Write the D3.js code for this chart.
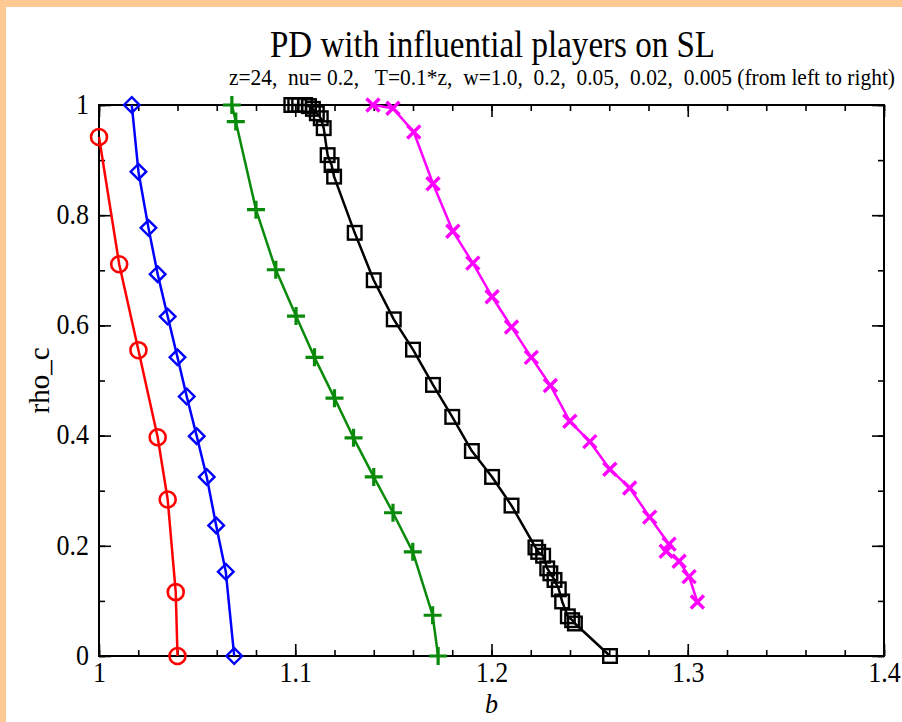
<!DOCTYPE html>
<html>
<head>
<meta charset="utf-8">
<script src="https://cdn.jsdelivr.net/npm/d3@7"></script>
<style>
  html, body { margin: 0; padding: 0; background: #ffc994; }
  svg { display: block; }
</style>
</head>
<body>
<svg id="chart" width="902" height="722"></svg>
<script>
// ---- data ----
const titleText = "PD with influential players on SL";
const subtitleText = "z=24,  nu= 0.2,   T=0.1*z,  w=1.0,  0.2,  0.05,  0.02,  0.005 (from left to right)";
const xTickValues = [1, 1.1, 1.2, 1.3, 1.4];
const xTickLabels = ["1", "1.1", "1.2", "1.3", "1.4"];
const yTickValues = [0, 0.2, 0.4, 0.6, 0.8, 1];
const yTickLabels = ["0", "0.2", "0.4", "0.6", "0.8", "1"];

const redX = [1.0, 1.0103, 1.0201, 1.0299, 1.035, 1.0391, 1.040];
const redY = [0.942, 0.711, 0.555, 0.397, 0.284, 0.116, 0.0];

const blueX = [1.0167, 1.0201, 1.0252, 1.0299, 1.035, 1.040, 1.0447, 1.0498, 1.0549, 1.0597, 1.0646, 1.0689];
const blueY = [1.0, 0.879, 0.777, 0.693, 0.616, 0.542, 0.471, 0.399, 0.325, 0.237, 0.153, 0.0];

const greenX = [1.0677, 1.0697, 1.080, 1.0901, 1.1004, 1.1098, 1.120, 1.1297, 1.140, 1.1498, 1.1599, 1.170, 1.1728];
const greenY = [1.0, 0.970, 0.810, 0.701, 0.617, 0.542, 0.468, 0.396, 0.325, 0.260, 0.189, 0.074, 0.0];

const blackX = [1.098, 1.100, 1.102, 1.105, 1.107, 1.109, 1.111, 1.113, 1.1145, 1.1165, 1.1185, 1.1198, 1.1303, 1.140, 1.1502, 1.160, 1.1702, 1.180, 1.190, 1.2003, 1.2102, 1.2224, 1.2238, 1.2263, 1.2284, 1.230, 1.2321, 1.2343, 1.236, 1.2389, 1.2411, 1.2425, 1.2604];
const blackY = [1.0, 1.0, 1.0, 1.0, 0.998, 0.993, 0.985, 0.976, 0.958, 0.909, 0.891, 0.870, 0.768, 0.682, 0.611, 0.556, 0.492, 0.434, 0.372, 0.325, 0.273, 0.197, 0.189, 0.182, 0.159, 0.150, 0.138, 0.121, 0.099, 0.072, 0.065, 0.059, 0.0];

const magentaX = [1.1396, 1.1498, 1.1604, 1.1702, 1.1803, 1.1905, 1.2003, 1.2102, 1.2203, 1.230, 1.2399, 1.2501, 1.2603, 1.2704, 1.2806, 1.2905, 1.2890, 1.2956, 1.3007, 1.3049];
const magentaY = [1.0, 0.994, 0.951, 0.857, 0.771, 0.713, 0.652, 0.597, 0.542, 0.491, 0.426, 0.389, 0.339, 0.305, 0.252, 0.203, 0.190, 0.172, 0.144, 0.098];

const seriesNames = ["w=1.0", "w=0.2", "w=0.05", "w=0.02", "w=0.005"];
const seriesColors = ["#ff0000", "#0000ff", "#0a8a0a", "#000000", "#ff00ff"];
const seriesShapes = ["circle", "diamond", "plus", "square", "cross"];

// ---- build ----
const series = [
  {x: redX, y: redY}, {x: blueX, y: blueY}, {x: greenX, y: greenY},
  {x: blackX, y: blackY}, {x: magentaX, y: magentaY}
].map((s, i) => ({
  name: seriesNames[i], color: seriesColors[i], shape: seriesShapes[i],
  pts: s.x.map((v, j) => ({x: v, y: s.y[j]}))
}));

const svg = d3.select("#chart");
const W = 902, H = 722;
svg.append("rect").attr("x", 6).attr("y", 7).attr("width", W - 6).attr("height", H - 7).attr("fill", "#ffffff");

const L = 99, R = 884, T = 105, B = 656;
const x = d3.scaleLinear().domain([1, 1.4]).range([L, R]);
const y = d3.scaleLinear().domain([0, 1]).range([B, T]);

const serif = "'Liberation Serif', 'DejaVu Serif', serif";
const stretch = 1.15;

// title (slightly tall glyphs as in the reference)
svg.append("text").attr("transform", `translate(270,57) scale(1,${stretch})`)
  .attr("font-family", serif).attr("font-size", 33).attr("fill", "#000")
  .attr("textLength", 445).attr("lengthAdjust", "spacingAndGlyphs").text(titleText);
svg.append("text").attr("transform", `translate(229,85) scale(1,${stretch})`)
  .attr("font-family", serif).attr("font-size", 20).attr("fill", "#000")
  .attr("xml:space", "preserve").style("white-space", "pre")
  .attr("textLength", 666).attr("lengthAdjust", "spacingAndGlyphs").text(subtitleText);

// axes: ticks inward on all four sides
const xMinor = d3.range(1, 1.4001, 0.02).map(v => +v.toFixed(3));
const yMinor = d3.range(0, 1.0001, 0.1).map(v => +v.toFixed(3));

function styleAxis(g) {
  g.select(".domain").remove();
  g.selectAll("line").attr("stroke", "#000").attr("stroke-width", 1.6);
  g.selectAll("text").attr("font-family", serif).attr("font-size", 26).attr("fill", "#000");
}

// bottom
svg.append("g").attr("transform", `translate(0,${B})`)
  .call(d3.axisBottom(x).tickValues(xMinor).tickSize(-6).tickFormat(""))
  .call(styleAxis);
svg.append("g").attr("transform", `translate(0,${B})`)
  .call(d3.axisBottom(x).tickValues(xTickValues).tickSize(-12).tickPadding(4)
    .tickFormat((d, i) => xTickLabels[i]))
  .call(styleAxis)
  .call(g => g.selectAll("text").attr("transform", `scale(1,${stretch})`));
// top
svg.append("g").attr("transform", `translate(0,${T})`)
  .call(d3.axisTop(x).tickValues(xMinor).tickSize(-6).tickFormat(""))
  .call(styleAxis);
svg.append("g").attr("transform", `translate(0,${T})`)
  .call(d3.axisTop(x).tickValues(xTickValues).tickSize(-12).tickFormat(""))
  .call(styleAxis);
// left
svg.append("g").attr("transform", `translate(${L},0)`)
  .call(d3.axisLeft(y).tickValues(yMinor).tickSize(-6).tickFormat(""))
  .call(styleAxis);
svg.append("g").attr("transform", `translate(${L},0)`)
  .call(d3.axisLeft(y).tickValues(yTickValues).tickSize(-12).tickPadding(10)
    .tickFormat((d, i) => yTickLabels[i]))
  .call(styleAxis)
  .call(g => g.selectAll("text").attr("dy", "0.28em").attr("transform", `scale(1,${stretch})`));
// right
svg.append("g").attr("transform", `translate(${R},0)`)
  .call(d3.axisRight(y).tickValues(yMinor).tickSize(-6).tickFormat(""))
  .call(styleAxis);
svg.append("g").attr("transform", `translate(${R},0)`)
  .call(d3.axisRight(y).tickValues(yTickValues).tickSize(-12).tickFormat(""))
  .call(styleAxis);

// frame
svg.append("rect").attr("x", L).attr("y", T).attr("width", R - L).attr("height", B - T)
  .attr("fill", "none").attr("stroke", "#000").attr("stroke-width", 2);

// axis labels
svg.append("text").attr("transform", `translate(${(L + R) / 2},713) scale(1,1.08)`).attr("text-anchor", "middle")
  .attr("font-family", serif).attr("font-style", "italic").attr("font-size", 26).text("b");
svg.append("text").attr("transform", `translate(49,${(T + B) / 2}) rotate(-90)`)
  .attr("text-anchor", "middle").attr("font-family", serif).attr("font-size", 29).text("rho_c");

// lines
const line = d3.line().x(d => x(d.x)).y(d => y(d.y));
const gS = svg.append("g");
series.forEach(s => {
  gS.append("path").datum(s.pts).attr("d", line).attr("fill", "none")
    .attr("stroke", s.color).attr("stroke-width", 2.5).attr("stroke-linejoin", "round");
});

// markers
series.forEach(s => {
  const g = gS.append("g");
  s.pts.forEach(p => {
    const cx = x(p.x), cy = y(p.y);
    if (s.shape === "circle") {
      g.append("circle").attr("cx", cx).attr("cy", cy).attr("r", 8)
        .attr("fill", "none").attr("stroke", s.color).attr("stroke-width", 2.6);
    } else if (s.shape === "diamond") {
      const r = 7.8;
      g.append("path").attr("d", `M${cx},${cy - r}L${cx + r},${cy}L${cx},${cy + r}L${cx - r},${cy}Z`)
        .attr("fill", "none").attr("stroke", s.color).attr("stroke-width", 2.4);
    } else if (s.shape === "square") {
      const h = 6.8;
      g.append("rect").attr("x", cx - h).attr("y", cy - h).attr("width", 2 * h).attr("height", 2 * h)
        .attr("fill", "none").attr("stroke", s.color).attr("stroke-width", 2.4);
    } else if (s.shape === "plus") {
      const r = 9;
      g.append("path").attr("d", `M${cx - r},${cy}L${cx + r},${cy}M${cx},${cy - r}L${cx},${cy + r}`)
        .attr("stroke", s.color).attr("stroke-width", 3.2);
    } else if (s.shape === "cross") {
      const r = 6.5;
      g.append("path").attr("d", `M${cx - r},${cy - r}L${cx + r},${cy + r}M${cx - r},${cy + r}L${cx + r},${cy - r}`)
        .attr("stroke", s.color).attr("stroke-width", 3.4);
    }
  });
});
</script>
</body>
</html>
